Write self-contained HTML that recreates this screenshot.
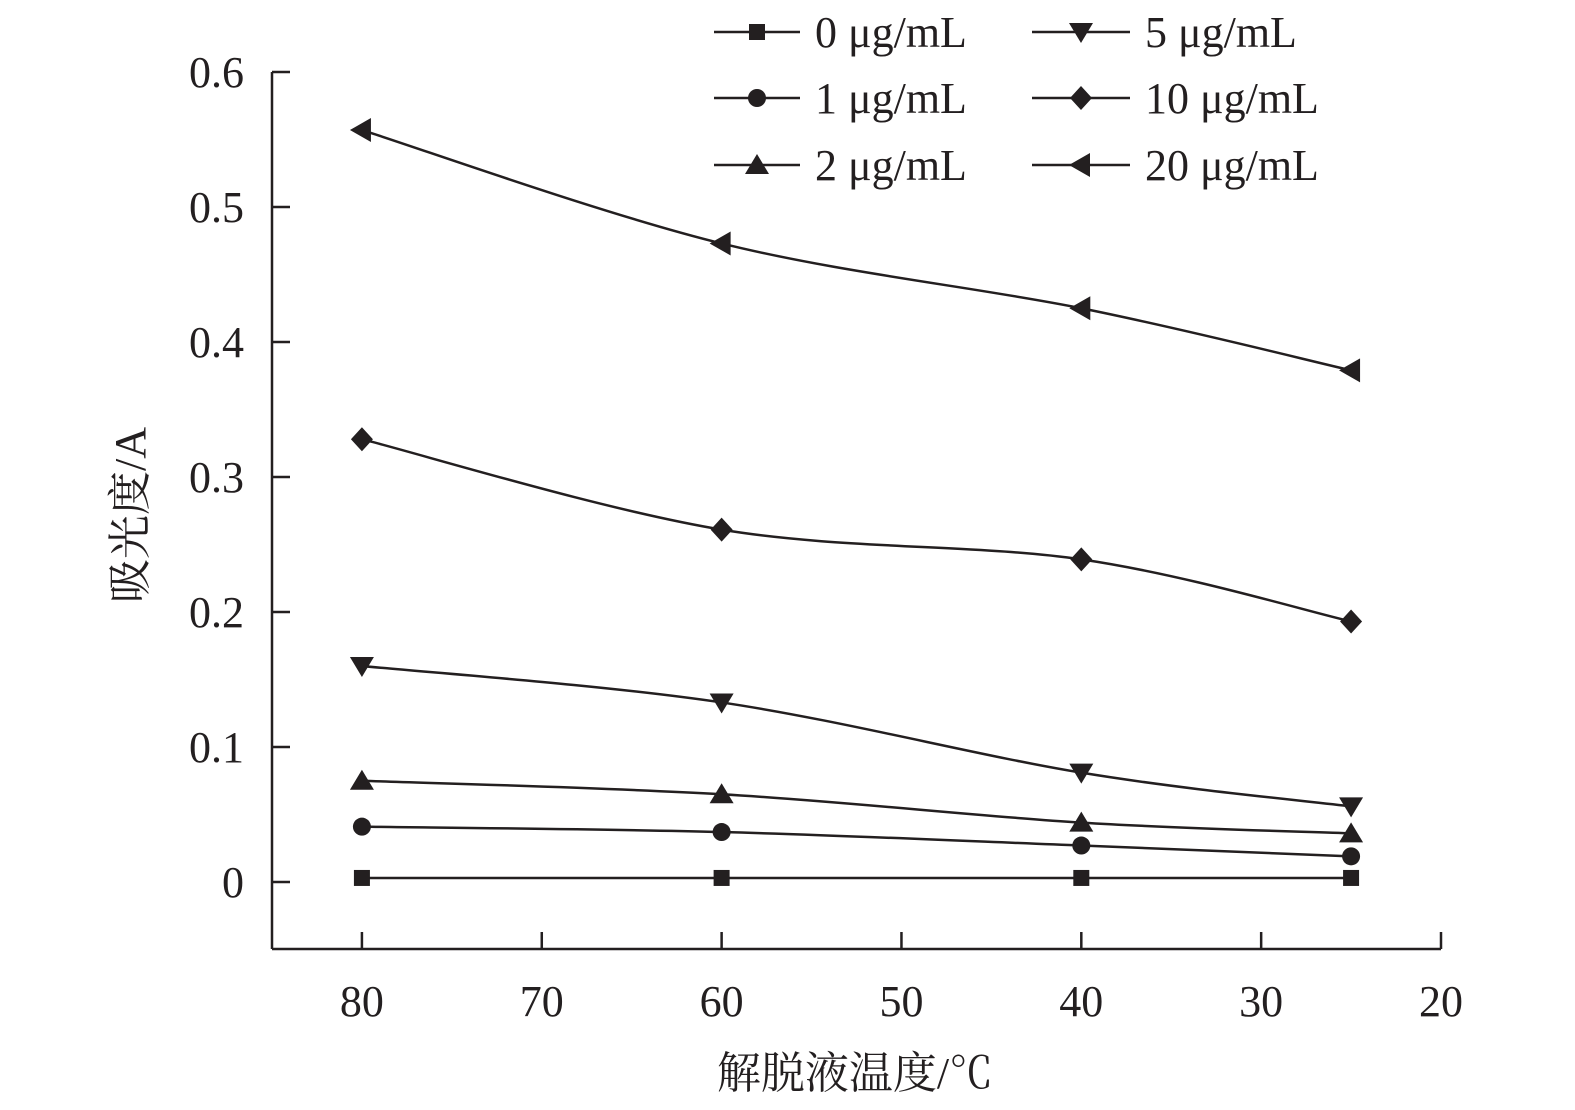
<!DOCTYPE html>
<html><head><meta charset="utf-8">
<style>
html,body{margin:0;padding:0;background:#fff;}
svg{display:block;}
text{font-family:"Liberation Serif","Noto Serif CJK SC",serif;fill:#231f20;}
</style></head>
<body>
<svg id="chart" width="1575" height="1110" viewBox="0 0 1575 1110" xmlns="http://www.w3.org/2000/svg">
<g id="axes"></g>
<g id="series"></g>
<g id="legend"></g>
<text x="855" y="1088" font-size="44" text-anchor="middle">解脱液温度/℃</text>
<text transform="translate(145,515) rotate(-90)" font-size="44" text-anchor="middle">吸光度/A</text>
</svg>
<script>
const temps = [80, 60, 40, 25];
const seriesNames = ["0 μg/mL","1 μg/mL","2 μg/mL","5 μg/mL","10 μg/mL","20 μg/mL"];
const s0 = [0.003, 0.003, 0.003, 0.003];
const s1 = [0.041, 0.037, 0.027, 0.019];
const s2 = [0.075, 0.065, 0.044, 0.036];
const s5 = [0.160, 0.133, 0.081, 0.056];
const s10 = [0.328, 0.261, 0.239, 0.193];
const s20 = [0.557, 0.473, 0.425, 0.379];
const yTicks = [0, 0.1, 0.2, 0.3, 0.4, 0.5, 0.6];
const xTicks = [80, 70, 60, 50, 40, 30, 20];

const NS = "http://www.w3.org/2000/svg";
const X0 = 272, X1 = 1441, Y0 = 949, Ytop = 72;
function xs(v){ return X0 + (85 - v) / 65 * (X1 - X0); }
function ys(v){ return 882 - v * 1350; }
function mk(tag, attrs, parent){ const e = document.createElementNS(NS, tag); for (const k in attrs) e.setAttribute(k, attrs[k]); parent.appendChild(e); return e; }

const axes = document.getElementById('axes');
let a = mk('line', {x1:X0, y1:Ytop, x2:X0, y2:Y0, stroke:'#231f20', 'stroke-width':2.5}, axes);


a = mk('line', {x1:X0, y1:Y0, x2:X1, y2:Y0, stroke:'#231f20', 'stroke-width':2.5}, axes);


yTicks.forEach(t => {
  const y = ys(t);
  const l = mk('line', {x1:X0, y1:y, x2:X0 + 18, y2:y, stroke:'#231f20', 'stroke-width':2.5}, axes);
  
  
  const tx = mk('text', {x:244, y:y + 15, 'font-size':44, 'text-anchor':'end'}, axes);
  tx.textContent = String(t);
  
  
});
xTicks.forEach(t => {
  const x = xs(t);
  const l = mk('line', {x1:x, y1:Y0, x2:x, y2:Y0 - 17, stroke:'#231f20', 'stroke-width':2.5}, axes);
  
  
  const tx = mk('text', {x:x, y:1016, 'font-size':44, 'text-anchor':'middle'}, axes);
  tx.textContent = String(t);
  
  
});

function marker(type, x, y, parent){
  let e;
  if (type === 'square') e = mk('rect', {x:x-8, y:y-8, width:16, height:16, fill:'#231f20'}, parent);
  else if (type === 'circle') e = mk('circle', {cx:x, cy:y, r:9, fill:'#231f20'}, parent);
  else if (type === 'up') e = mk('polygon', {points:`${x},${y-11} ${x+12},${y+9} ${x-12},${y+9}`, fill:'#231f20'}, parent);
  else if (type === 'down') e = mk('polygon', {points:`${x-12},${y-9} ${x+12},${y-9} ${x},${y+11}`, fill:'#231f20'}, parent);
  else if (type === 'diamond') e = mk('polygon', {points:`${x},${y-12} ${x+11},${y} ${x},${y+12} ${x-11},${y}`, fill:'#231f20'}, parent);
  else e = mk('polygon', {points:`${x-12},${y} ${x+9},${y-12} ${x+9},${y+12}`, fill:'#231f20'}, parent);
  return e;
}
function smooth(pts){
  let d = `M${pts[0][0]},${pts[0][1]}`;
  for (let i = 0; i < pts.length - 1; i++){
    const p0 = pts[Math.max(0, i-1)], p1 = pts[i], p2 = pts[i+1], p3 = pts[Math.min(pts.length-1, i+2)];
    const c1 = [p1[0] + (p2[0]-p0[0])/6, p1[1] + (p2[1]-p0[1])/6];
    const c2 = [p2[0] - (p3[0]-p1[0])/6, p2[1] - (p3[1]-p1[1])/6];
    d += ` C${c1[0]},${c1[1]} ${c2[0]},${c2[1]} ${p2[0]},${p2[1]}`;
  }
  return d;
}
const allSeries = [s0, s1, s2, s5, s10, s20];
const markers = ['square','circle','up','down','diamond','left'];
const sg = document.getElementById('series');
allSeries.forEach((vals, si) => {
  const g = mk('g', {}, sg);
  
  
  const pts = vals.map((v, i) => [xs(temps[i]), ys(v)]);
  const p = mk('path', {d:smooth(pts), fill:'none', stroke:'#231f20', 'stroke-width':2.5}, g);
  
  
  pts.forEach(pt => {
    const m = marker(markers[si], pt[0], pt[1], g);
    
    
  });
});

const lg = document.getElementById('legend');
const legCols = [[714, 800, 757, 815], [1032, 1130, 1081, 1145]];
const legRows = [32, 98, 165];
seriesNames.forEach((name, i) => {
  const col = legCols[Math.floor(i / 3)], y = legRows[i % 3];
  const g = mk('g', {}, lg);
  
  
  mk('line', {x1:col[0], y1:y, x2:col[1], y2:y, stroke:'#231f20', 'stroke-width':2.5}, g);
  marker(markers[i], col[2], y, g);
  const t = mk('text', {x:col[3], y:y + 15, 'font-size':44}, g);
  t.textContent = name;
  
  
});
</script>
</body></html>
